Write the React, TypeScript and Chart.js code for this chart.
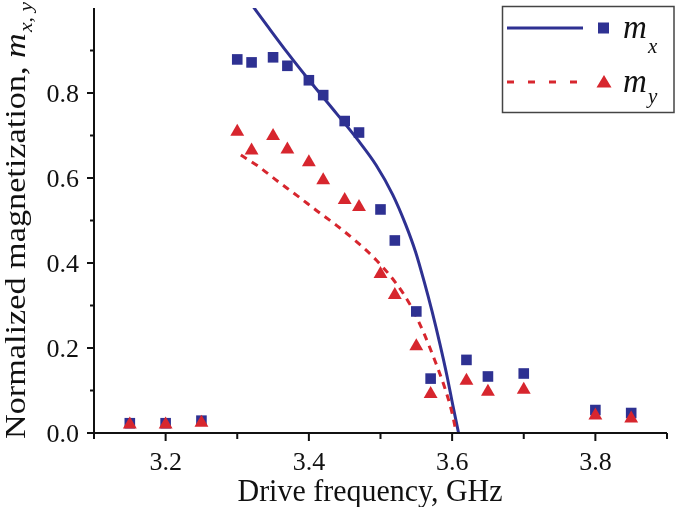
import React, { useEffect, useRef } from "react";
import { Chart, registerables } from "chart.js";

Chart.register(...registerables);

// ---- data ----
const pointFreqs = [3.15, 3.2, 3.25, 3.3, 3.32, 3.35, 3.37, 3.4, 3.42, 3.45, 3.47, 3.5, 3.52, 3.55, 3.57, 3.62, 3.65, 3.7, 3.8, 3.85];
const mxValues = [0.023, 0.023, 0.029, 0.879, 0.872, 0.884, 0.864, 0.83, 0.795, 0.734, 0.707, 0.526, 0.453, 0.286, 0.128, 0.172, 0.133, 0.14, 0.054, 0.047];
const myValues = [0.02, 0.02, 0.024, 0.709, 0.665, 0.699, 0.667, 0.637, 0.595, 0.548, 0.532, 0.374, 0.325, 0.204, 0.092, 0.123, 0.097, 0.102, 0.041, 0.034];

const mxFitFreqs = [3.318, 3.342, 3.37, 3.399, 3.439, 3.47, 3.494, 3.517, 3.535, 3.549, 3.561, 3.572, 3.583, 3.593, 3.601, 3.609];
const mxFitValues = [1.013, 0.958, 0.895, 0.833, 0.751, 0.686, 0.63, 0.561, 0.491, 0.426, 0.356, 0.286, 0.209, 0.133, 0.065, 0.0];

const myFitFreqs = [3.305, 3.329, 3.356, 3.384, 3.411, 3.439, 3.466, 3.494, 3.521, 3.542, 3.56, 3.576, 3.59, 3.6, 3.605];
const myFitValues = [0.654, 0.628, 0.593, 0.558, 0.523, 0.488, 0.451, 0.407, 0.354, 0.3, 0.237, 0.17, 0.105, 0.047, 0.007];

const xTickValues = [3.1, 3.2, 3.3, 3.4, 3.5, 3.6, 3.7, 3.8, 3.9];
const xLabelValues = [3.2, 3.4, 3.6, 3.8];
const yTickValues = [0, 0.1, 0.2, 0.3, 0.4, 0.5, 0.6, 0.7, 0.8, 0.9];
const yLabelValues = [0, 0.2, 0.4, 0.6, 0.8];

const xTitle = "Drive frequency, GHz";
const yTitleMain = "Normalized magnetization, ";
const yTitleVar = "m";
const yTitleSub = "x, y";
const legendVar = "m";
const legendSubs = ["x", "y"];

const BLUE = "#2e3192";
const RED = "#d7262e";
const INK = "#111111";
const SERIF = '"Liberation Serif", "DejaVu Serif", serif';

const toPts = (xs: number[], ys: number[]) => xs.map((x, i) => ({ x, y: ys[i] }));

const isMajor = (v: number, list: number[]) => list.some((l) => Math.abs(l - v) < 1e-6);

const customPlugin = {
  id: "customAxesLegend",
  afterDatasetsDraw(chart: any) {
    const ctx: CanvasRenderingContext2D = chart.ctx;
    const xs = chart.scales.x;
    const ys = chart.scales.y;
    const ca = chart.chartArea;
    ctx.save();
    ctx.strokeStyle = INK;
    ctx.fillStyle = INK;
    ctx.lineWidth = 2;
    ctx.lineCap = "butt";

    // axis lines
    ctx.beginPath();
    ctx.moveTo(ca.left, ca.top);
    ctx.lineTo(ca.left, ca.bottom + 1);
    ctx.moveTo(ca.left - 1, ca.bottom);
    ctx.lineTo(ca.right, ca.bottom);
    ctx.stroke();

    // ticks
    ctx.beginPath();
    xTickValues.forEach((v) => {
      const px = xs.getPixelForValue(v);
      const len = isMajor(v, xLabelValues) ? 8 : 6;
      ctx.moveTo(px, ca.bottom);
      ctx.lineTo(px, ca.bottom + len);
    });
    yTickValues.forEach((v) => {
      const py = ys.getPixelForValue(v);
      const len = isMajor(v, yLabelValues) ? 7 : 4;
      ctx.moveTo(ca.left, py);
      ctx.lineTo(ca.left - len, py);
    });
    ctx.stroke();

    // tick labels
    ctx.font = `26px ${SERIF}`;
    ctx.textBaseline = "alphabetic";
    ctx.textAlign = "center";
    xLabelValues.forEach((v) => {
      ctx.fillText(v.toFixed(1), xs.getPixelForValue(v), ca.bottom + 37);
    });
    ctx.textAlign = "right";
    yLabelValues.forEach((v) => {
      ctx.fillText(v.toFixed(1), ca.left - 15, ys.getPixelForValue(v) + 9);
    });

    // x title
    ctx.textAlign = "left";
    ctx.font = `31px ${SERIF}`;
    const xw = ctx.measureText(xTitle).width;
    const xTarget = 265;
    ctx.save();
    ctx.translate(370 - xTarget / 2, 501);
    ctx.scale(xTarget / xw, 1.05);
    ctx.fillText(xTitle, 0, 0);
    ctx.restore();

    // y title (rotated, mixed fonts)
    const mainFont = `30px ${SERIF}`;
    const varFont = `italic 30px ${SERIF}`;
    const subFont = `italic 19px ${SERIF}`;
    ctx.font = mainFont;
    const w1 = ctx.measureText(yTitleMain).width;
    ctx.font = varFont;
    const w2 = ctx.measureText(yTitleVar).width;
    ctx.font = subFont;
    const w3 = ctx.measureText(yTitleSub).width;
    const total = w1 + w2 + 1 + w3;
    const yTarget = 437;
    ctx.save();
    ctx.translate(25, 439);
    ctx.rotate(-Math.PI / 2);
    ctx.scale(yTarget / total, 1);
    ctx.font = mainFont;
    ctx.fillText(yTitleMain, 0, 0);
    ctx.font = varFont;
    ctx.fillText(yTitleVar, w1, 0);
    ctx.font = subFont;
    ctx.fillText(yTitleSub, w1 + w2 + 1, 7);
    ctx.restore();

    // legend
    ctx.lineWidth = 1.5;
    ctx.strokeStyle = "#444";
    ctx.strokeRect(502.5, 6.5, 171.5, 106);

    const rows = [
      { y: 28, color: BLUE, dash: [] as number[], shape: "rect" },
      { y: 82, color: RED, dash: [7, 14], shape: "triangle" },
    ];
    rows.forEach((r, i) => {
      ctx.strokeStyle = r.color;
      ctx.lineWidth = 3;
      ctx.setLineDash(r.dash);
      ctx.beginPath();
      ctx.moveTo(507, r.y);
      ctx.lineTo(583, r.y);
      ctx.stroke();
      ctx.setLineDash([]);
      ctx.fillStyle = r.color;
      if (r.shape === "rect") {
        ctx.fillRect(598, r.y - 5.5, 11, 11);
      } else {
        ctx.beginPath();
        ctx.moveTo(604, r.y - 7);
        ctx.lineTo(611.5, r.y + 5.5);
        ctx.lineTo(596.5, r.y + 5.5);
        ctx.closePath();
        ctx.fill();
      }
      ctx.fillStyle = INK;
      ctx.textAlign = "left";
      ctx.font = `italic 33px ${SERIF}`;
      ctx.fillText(legendVar, 623, r.y + 10);
      ctx.font = `italic 21px ${SERIF}`;
      ctx.fillText(legendSubs[i], 648, r.y + (i === 0 ? 25 : 21));
    });

    ctx.restore();
  },
};

export default function App() {
  const canvasRef = useRef<HTMLCanvasElement | null>(null);

  useEffect(() => {
    const canvas = canvasRef.current;
    if (!canvas) return;
    const chart = new Chart(canvas, {
      type: "scatter",
      data: {
        datasets: [
          {
            label: "m_y",
            data: toPts(pointFreqs, myValues),
            pointStyle: "triangle",
            pointRadius: 8,
            backgroundColor: RED,
            borderColor: RED,
            borderWidth: 0,
            showLine: false,
          },
          {
            label: "m_x",
            data: toPts(pointFreqs, mxValues),
            pointStyle: "rect",
            pointRadius: 7.5,
            backgroundColor: BLUE,
            borderColor: BLUE,
            borderWidth: 0,
            showLine: false,
          },
          {
            label: "m_y fit",
            data: toPts(myFitFreqs, myFitValues),
            showLine: true,
            pointRadius: 0,
            borderColor: RED,
            borderWidth: 3,
            borderDash: [7, 6],
            cubicInterpolationMode: "monotone",
            fill: false,
          },
          {
            label: "m_x fit",
            data: toPts(mxFitFreqs, mxFitValues),
            showLine: true,
            pointRadius: 0,
            borderColor: BLUE,
            borderWidth: 3,
            cubicInterpolationMode: "monotone",
            fill: false,
          },
        ],
      },
      options: {
        responsive: false,
        animation: false,
        events: [],
        layout: { padding: { top: 3, right: 0, left: 0, bottom: 0 } },
        plugins: { legend: { display: false }, tooltip: { enabled: false } },
        scales: {
          x: {
            type: "linear",
            min: 3.1,
            max: 3.9,
            grid: { display: false, drawTicks: false },
            border: { display: false },
            ticks: { display: false },
            afterFit: (s: any) => {
              s.height = 74;
            },
          },
          y: {
            type: "linear",
            min: 0,
            max: 1.0,
            grid: { display: false, drawTicks: false },
            border: { display: false },
            ticks: { display: false },
            afterFit: (s: any) => {
              s.width = 94;
            },
          },
        },
      },
      plugins: [customPlugin],
    } as any);

    let alive = true;
    const fonts: any = (document as any).fonts;
    if (fonts && fonts.load) {
      Promise.all([
        fonts.load(`26px "Liberation Serif"`),
        fonts.load(`italic 30px "Liberation Serif"`),
      ])
        .then(() => {
          if (alive) chart.draw();
        })
        .catch(() => {});
    }
    return () => {
      alive = false;
      chart.destroy();
    };
  }, []);

  return (
    <div style={{ position: "fixed", left: 0, top: 0, width: 675, height: 507, background: "#fff" }}>
      <canvas ref={canvasRef} width={675} height={507} style={{ display: "block" }} />
    </div>
  );
}
